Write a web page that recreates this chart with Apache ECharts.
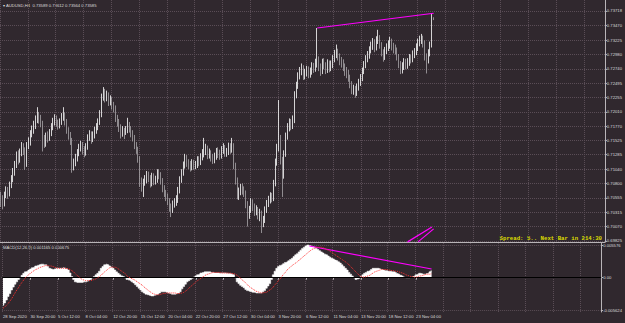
<!DOCTYPE html>
<html><head><meta charset="utf-8">
<script src="https://cdn.jsdelivr.net/npm/echarts@6/dist/echarts.min.js"></script>
<style>html,body{margin:0;padding:0;background:#30282e;}#c{width:625px;height:323px;}</style>
</head><body><div id="c"></div>
<script>
// ---- data (AUDUSD, H4) ----
const timeLabels = ['28 Sep 2020','30 Sep 20:00','5 Oct 12:00','8 Oct 04:00','12 Oct 20:00','15 Oct 12:00','20 Oct 04:00','22 Oct 20:00','27 Oct 12:00','30 Oct 04:00','3 Nov 20:00','6 Nov 12:00','11 Nov 04:00','13 Nov 20:00','18 Nov 12:00','23 Nov 04:00'];
const priceTicks = [0.69825,0.70070,0.70315,0.70555,0.70800,0.71040,0.71285,0.71525,0.71770,0.72010,0.72255,0.72495,0.72740,0.72980,0.73225,0.73470,0.73718];
const macdTicks = [-0.005624, 0, 0.005576];
const firstOpen = 0.7058;
const closes = [
0.7052,0.7045,0.7060,0.7068,0.7063,0.7077,0.7088,0.7099,0.7112,0.7128,
0.7120,0.7131,0.7142,0.7137,0.7112,0.7145,0.7150,0.7165,0.7170,0.7178,
0.7187,0.7195,0.7190,0.7182,0.7153,0.7148,0.7160,0.7158,0.7165,0.7176,
0.7184,0.7190,0.7182,0.7179,0.7184,0.7192,0.7196,0.7185,0.7170,0.7162,
0.7153,0.7108,0.7115,0.7123,0.7132,0.7140,0.7145,0.7137,0.7133,0.7142,
0.7158,0.7163,0.7155,0.7162,0.7170,0.7175,0.7184,0.7198,0.7226,0.7235,
0.7225,0.7230,0.7218,0.7222,0.7212,0.7208,0.7191,0.7184,0.7175,0.7165,
0.7170,0.7162,0.7170,0.7179,0.7172,0.7165,0.7158,0.7145,0.7138,
0.7123,0.7082,0.7075,0.7082,0.7086,0.7095,0.7089,0.7080,0.7092,0.7084,
0.7086,0.7098,0.7094,0.7085,0.7072,0.7064,0.7058,0.7050,0.7040,0.7035,
0.7045,0.7048,0.7052,0.7068,0.7086,0.7098,0.7110,0.7123,0.7115,0.7112,
0.7108,0.7115,0.7110,0.7111,0.7120,0.7116,0.7125,0.7130,0.7133,0.7140,
0.7128,0.7132,0.7125,0.7120,0.7125,0.7134,0.7130,0.7128,0.7136,0.7140,
0.7132,0.7133,0.7142,0.7137,0.7145,0.7111,0.7085,0.7060,0.7066,0.7072,
0.7068,0.7064,0.7045,0.7027,0.7035,0.7048,0.7040,0.7032,0.7036,0.7027,
0.7030,0.7013,0.7018,0.7035,0.7045,0.7052,0.7058,0.7055,0.7080,
0.7115,0.7140,0.7157,0.7120,0.7094,0.7130,0.7160,0.7175,0.7182,0.7178,
0.7187,0.7230,0.7245,0.7262,0.7269,0.7275,0.7262,0.7267,0.7272,0.7265,
0.7269,0.7278,0.7274,0.7284,0.7289,0.7278,0.7270,0.7285,0.7280,0.7272,
0.7283,0.7275,0.7280,0.7290,0.7298,0.7302,0.7295,0.7288,0.7284,0.7278,
0.7270,0.7266,0.7260,0.7248,0.7238,0.7240,0.7233,0.7242,0.7250,0.7258,
0.7270,0.7280,0.7290,0.7297,0.7305,0.7312,0.7318,0.7310,0.7322,0.7326,
0.7315,0.7302,0.7294,0.7305,0.7310,0.7314,0.7320,0.7312,0.7308,0.7306,
0.7295,0.7282,0.7272,0.7278,0.7285,0.7280,0.7285,0.7292,0.7290,0.7298,
0.7302,0.7310,0.7318,0.7322,0.7326,0.7318,0.7295,0.7289,0.7300,0.7314,
0.73589,0.73585];
const highs = [
0.7066,0.7060,0.7066,0.7075,0.7074,0.7083,0.7094,0.7106,0.7118,0.7134,
0.7136,0.7139,0.7150,0.7148,0.7141,0.7150,0.7158,0.7170,0.7178,0.7186,
0.7195,0.7209,0.7201,0.7196,0.7186,0.7162,0.7166,0.7168,0.7172,0.7182,
0.7191,0.7197,0.7195,0.7188,0.7190,0.7199,0.7209,0.7200,0.7189,0.7175,
0.7167,0.7157,0.7122,0.7130,0.7138,0.7147,0.7152,0.7150,0.7143,0.7148,
0.7163,0.7170,0.7168,0.7168,0.7176,0.7182,0.7190,0.7204,0.7232,0.7243,
0.7240,0.7237,0.7234,0.7229,0.7226,0.7218,0.7212,0.7196,0.7189,0.7180,
0.7177,0.7174,0.7177,0.7191,0.7184,0.7177,0.7170,0.7162,0.7150,
0.7142,0.7126,0.7090,0.7088,0.7094,0.7101,0.7100,0.7094,0.7098,0.7097,
0.7093,0.7104,0.7104,0.7099,0.7089,0.7077,0.7069,0.7063,0.7055,0.7046,
0.7051,0.7055,0.7060,0.7074,0.7092,0.7104,0.7117,0.7130,0.7128,0.7121,
0.7118,0.7121,0.7120,0.7118,0.7126,0.7126,0.7131,0.7138,0.7157,0.7147,
0.7144,0.7139,0.7136,0.7130,0.7132,0.7140,0.7141,0.7137,0.7143,0.7148,
0.7145,0.7140,0.7149,0.7148,0.7157,0.7148,0.7115,0.7090,0.7073,0.7079,
0.7080,0.7075,0.7068,0.7050,0.7042,0.7055,0.7053,0.7046,0.7043,0.7040,
0.7037,0.7034,0.7025,0.7041,0.7052,0.7059,0.7065,0.7064,0.7086,
0.7122,0.7147,0.7221,0.7162,0.7125,0.7136,0.7166,0.7182,0.7190,0.7189,
0.7195,0.7236,0.7252,0.7268,0.7277,0.7283,0.7280,0.7274,0.7279,0.7278,
0.7276,0.7285,0.7284,0.7291,0.7343,0.7295,0.7283,0.7291,0.7292,0.7285,
0.7290,0.7288,0.7288,0.7297,0.7306,0.7315,0.7308,0.7300,0.7294,0.7290,
0.7283,0.7277,0.7272,0.7264,0.7253,0.7247,0.7245,0.7249,0.7257,0.7265,
0.7276,0.7287,0.7297,0.7304,0.7312,0.7320,0.7326,0.7324,0.7329,0.7340,
0.7331,0.7319,0.7307,0.7311,0.7317,0.7322,0.7328,0.7325,0.7318,0.7315,
0.7310,0.7299,0.7287,0.7285,0.7292,0.7291,0.7292,0.7299,0.7298,0.7305,
0.7309,0.7317,0.7325,0.7330,0.7333,0.7330,0.7322,0.7300,0.7307,0.7320,
0.7368,0.73612];
const lows = [
0.7040,0.7036,0.7041,0.7055,0.7054,0.7058,0.7072,0.7082,0.7093,0.7106,
0.7112,0.7115,0.7126,0.7128,0.7103,0.7108,0.7138,0.7144,0.7158,0.7164,
0.7172,0.7182,0.7181,0.7175,0.7134,0.7140,0.7142,0.7149,0.7152,0.7160,
0.7170,0.7178,0.7176,0.7171,0.7173,0.7179,0.7186,0.7178,0.7164,0.7154,
0.7145,0.7098,0.7102,0.7109,0.7117,0.7126,0.7134,0.7129,0.7124,0.7127,
0.7137,0.7152,0.7147,0.7150,0.7156,0.7164,0.7170,0.7179,0.7192,0.7220,
0.7217,0.7219,0.7211,0.7212,0.7205,0.7200,0.7184,0.7176,0.7167,0.7156,
0.7159,0.7155,0.7162,0.7165,0.7166,0.7158,0.7151,0.7138,0.7130,
0.7115,0.7074,0.7066,0.7057,0.7076,0.7080,0.7082,0.7073,0.7075,0.7077,
0.7078,0.7081,0.7087,0.7078,0.7065,0.7057,0.7050,0.7043,0.7032,0.7023,
0.7030,0.7039,0.7042,0.7047,0.7063,0.7081,0.7093,0.7105,0.7108,0.7104,
0.7100,0.7102,0.7103,0.7104,0.7106,0.7109,0.7111,0.7119,0.7124,0.7128,
0.7121,0.7122,0.7117,0.7113,0.7114,0.7120,0.7123,0.7120,0.7122,0.7130,
0.7125,0.7125,0.7128,0.7130,0.7132,0.7104,0.7078,0.7053,0.7052,0.7060,
0.7061,0.7057,0.7038,0.7007,0.7020,0.7030,0.7033,0.7025,0.7026,0.7019,
0.7016,0.6996,0.7006,0.7013,0.7030,0.7040,0.7046,0.7048,0.7050,
0.7075,0.7110,0.7134,0.7112,0.7057,0.7088,0.7125,0.7154,0.7168,0.7170,
0.7172,0.7182,0.7224,0.7240,0.7256,0.7263,0.7255,0.7256,0.7261,0.7258,
0.7259,0.7264,0.7267,0.7269,0.7276,0.7270,0.7262,0.7265,0.7273,0.7265,
0.7267,0.7268,0.7270,0.7275,0.7285,0.7292,0.7288,0.7280,0.7276,0.7270,
0.7262,0.7258,0.7252,0.7241,0.7231,0.7230,0.7225,0.7228,0.7237,0.7245,
0.7253,0.7265,0.7275,0.7285,0.7291,0.7300,0.7306,0.7302,0.7305,0.7316,
0.7308,0.7295,0.7286,0.7289,0.7299,0.7304,0.7308,0.7305,0.7300,0.7298,
0.7288,0.7275,0.7265,0.7266,0.7272,0.7273,0.7274,0.7279,0.7283,0.7285,
0.7292,0.7297,0.7304,0.7312,0.7316,0.7310,0.7288,0.7266,0.7283,0.7295,
0.7310,0.73564];
const macdMain = [
-0.0047,-0.0043,-0.0038,-0.0032,-0.0027,-0.0021,-0.0016,-0.0011,-0.0007,-0.0003,
0.0000,0.0004,0.00075,0.0010,0.0011,0.0013,0.0015,0.0017,0.0018,0.0020,
0.0021,0.0022,0.0023,0.0023,0.0022,0.0022,0.0019,0.0016,0.0015,0.0014,
0.0015,0.0016,0.0016,0.0016,0.0016,0.0017,0.0016,0.0015,0.0013,0.0008,
0.0002,-0.0003,-0.0007,-0.0008,-0.0008,-0.0008,-0.0008,-0.0007,-0.0007,-0.0006,
-0.0004,-0.0003,0.0000,0.0002,0.0005,0.00075,0.0011,0.0016,0.0019,0.0022,
0.0023,0.0022,0.0020,0.0018,0.0016,0.0013,0.0010,0.00075,0.0005,0.0003,
0.0002,0.0000,-0.0003,-0.0004,-0.0005,-0.0007,-0.0009,-0.0012,-0.0015,
-0.0018,-0.0021,-0.0024,-0.0026,-0.0028,-0.0029,-0.0030,-0.0031,-0.0031,-0.0030,
-0.0029,-0.0028,-0.0026,-0.0024,-0.0024,-0.0024,-0.0025,-0.0026,-0.0027,-0.0028,
-0.0028,-0.0028,-0.0027,-0.0026,-0.0024,-0.0019,-0.0015,-0.0011,-0.0007,-0.0005,
-0.0003,-0.0001,0.0001,0.0003,0.0005,0.0006,0.0008,0.0009,0.0010,0.0010,
0.0010,0.0010,0.0009,0.0009,0.0008,0.0008,0.0008,0.00075,0.0008,0.0008,
0.0008,0.00075,0.0007,0.0007,0.0006,0.0005,0.0000,-0.0007,-0.0010,-0.0013,
-0.0015,-0.0017,-0.0020,-0.0022,-0.0023,-0.0024,-0.0025,-0.0025,-0.0026,-0.0026,
-0.0026,-0.0026,-0.0024,-0.0022,-0.0018,-0.0014,-0.0010,-0.0003,0.0005,
0.0011,0.0016,0.0019,0.0021,0.0022,0.0024,0.0026,0.0027,0.0029,0.0031,
0.0033,0.0036,0.0039,0.0041,0.0044,0.0047,0.0050,0.0052,0.0054,0.00557,
0.0055,0.0054,0.0053,0.0052,0.0050,0.0048,0.0046,0.0044,0.0042,0.0040,
0.0039,0.0037,0.0035,0.0033,0.0032,0.0030,0.0029,0.0027,0.0025,0.0022,
0.0019,0.0016,0.0013,0.0009,0.0006,0.0003,0.0000,-0.0003,-0.0002,-0.0001,
0.0002,0.0005,0.00075,0.0009,0.0011,0.0012,0.0014,0.0016,0.0016,0.0016,
0.0016,0.0015,0.0014,0.0013,0.0012,0.0012,0.0011,0.0011,0.0010,0.0010,
0.0009,0.0007,0.0006,0.0004,0.0003,0.0001,0.0000,0.0000,0.0000,0.0001,
0.0002,0.0003,0.0005,0.0006,0.00075,0.0007,0.0006,0.0006,0.0007,0.00075,
0.0010,0.001165];
const macdSignal = [
-0.0052,-0.0050,-0.0047,-0.0044,-0.0040,-0.0036,-0.0031,-0.0026,-0.0021,-0.0017,
-0.0012,-0.0008,-0.0004,0.0000,0.0003,0.0005,0.0008,0.0010,0.0012,0.0014,
0.0015,0.0017,0.0018,0.0019,0.0020,0.0021,0.0021,0.0020,0.0020,0.0019,
0.0018,0.0017,0.0016,0.0016,0.0016,0.0016,0.0016,0.0016,0.0015,0.0014,
0.0012,0.0010,0.0007,0.0004,0.0002,-0.0001,-0.0003,-0.0004,-0.0005,-0.0005,
-0.0005,-0.0005,-0.0004,-0.0003,-0.0002,0.0000,0.0002,0.0004,0.0007,0.0010,
0.0012,0.0015,0.0017,0.0018,0.0018,0.0018,0.0017,0.0015,0.0013,0.0011,
0.0009,0.0007,0.0003,0.0001,0.0000,-0.0002,-0.0003,-0.0005,-0.0007,
-0.0009,-0.0011,-0.0013,-0.0016,-0.0018,-0.0021,-0.0023,-0.0025,-0.0027,-0.0028,
-0.0029,-0.0029,-0.0029,-0.0028,-0.0027,-0.0027,-0.0026,-0.0026,-0.0026,-0.0026,
-0.0026,-0.0026,-0.0027,-0.0027,-0.0027,-0.0026,-0.0025,-0.0023,-0.0021,-0.0018,
-0.0015,-0.0013,-0.0010,-0.0007,-0.0005,-0.0003,-0.0001,0.0001,0.0003,0.0005,
0.0006,0.0007,0.0008,0.0009,0.0009,0.0009,0.0009,0.0009,0.0008,0.0008,
0.0008,0.0008,0.0008,0.0008,0.0007,0.0007,0.0006,0.0004,0.0002,-0.0001,
-0.0004,-0.0006,-0.0009,-0.0012,-0.0015,-0.0017,-0.0019,-0.0021,-0.0023,-0.0024,
-0.0025,-0.0026,-0.0026,-0.0025,-0.0025,-0.0023,-0.0021,-0.0019,-0.0016,
-0.0012,-0.0009,-0.0005,-0.0002,0.0002,0.0006,0.0009,0.0013,0.0016,0.0018,
0.0021,0.0023,0.0025,0.0027,0.0030,0.0032,0.0035,0.0037,0.0040,0.0042,
0.0045,0.0047,0.0049,0.0050,0.0052,0.0052,0.0052,0.0052,0.0051,0.0050,
0.0048,0.0047,0.0045,0.0043,0.0041,0.0039,0.0037,0.0035,0.0033,0.0031,
0.0029,0.0027,0.0025,0.0022,0.0019,0.0016,0.0013,0.0010,0.0007,0.0004,
0.0002,0.0001,0.0001,0.0002,0.0003,0.0004,0.0006,0.0008,0.0010,0.0011,
0.0012,0.0013,0.0014,0.0014,0.0014,0.0014,0.0013,0.0013,0.0012,0.0012,
0.0011,0.0011,0.0010,0.0009,0.0008,0.0007,0.0005,0.0004,0.0003,0.0002,
0.0002,0.0001,0.0001,0.0002,0.0003,0.0003,0.0004,0.0005,0.0006,0.0006,
0.0006,0.000675];
// hand-drawn trend lines on the reference: [barIndex, value] pairs
const priceTrendLines = [
  [[182, 0.7343], [249, 0.7368]],
  [[234, 0.6981], [248, 0.7006]],
  [[240, 0.6981], [249, 0.7003]]
];
const macdTrendLines = [
  [[178, 0.0054], [249, 0.00148]]
];
const futureSlots = 98;
const spreadText = 'Spread: 5.. Next Bar in 214:30';

// ---- chart ----
const FONT = 'Liberation Sans';
const TXT = '#dcdcdc';
const AXIS = '#b9b5b8';
const GRIDC = '#5a4d56';
const nBars = closes.length;
const cats = [];
for (let i = 0; i < nBars + futureSlots; i++) cats.push(String(i));
const candles = closes.map((c, i) => [i === 0 ? firstOpen : closes[i - 1], c, lows[i], highs[i]]);
const last = candles[nBars - 1];
const f5 = v => v.toFixed(5);
const header = '\u25BE AUDUSD,H4  ' + [last[0], last[3], last[2], last[1]].map(f5).join(' ');
const macdTitle = 'MACD(12,26,9) ' + macdMain[nBars - 1].toFixed(6) + ' ' + macdSignal[nBars - 1].toFixed(6);
const labIv = (i) => i % 16 === 0 && (i / 16) < timeLabels.length;
const gridIv = (i) => i % 16 === 0;
const toML = (arr) => arr.map(l => [{coord: [String(l[0][0]), l[0][1]]}, {coord: [String(l[1][0]), l[1][1]]}]);

const chart = echarts.init(document.getElementById('c'), null, {renderer: 'svg', width: 625, height: 323});
chart.setOption({
  backgroundColor: '#30282e',
  animation: false,
  textStyle: {fontFamily: FONT},
  grid: [
    {left: 0, right: 20, top: 0, height: 242},
    {left: 0, right: 20, top: 243, height: 69}
  ],
  xAxis: [
    {type: 'category', gridIndex: 0, data: cats, boundaryGap: true,
     axisLine: {show: true, lineStyle: {color: AXIS, width: 1}},
     axisTick: {show: false}, axisLabel: {show: false},
     splitLine: {show: true, interval: gridIv, lineStyle: {color: GRIDC, type: 'dotted', width: 1}}},
    {type: 'category', gridIndex: 1, data: cats, boundaryGap: true,
     axisLine: {show: true, lineStyle: {color: AXIS, width: 1}},
     axisTick: {show: true, alignWithLabel: true, interval: labIv, length: 2, lineStyle: {color: AXIS}},
     axisLabel: {show: true, interval: labIv, formatter: (v, i) => timeLabels[i / 16], align: 'left',
                 margin: 2, fontSize: 4.2, color: TXT, fontFamily: FONT},
     splitLine: {show: true, interval: gridIv, lineStyle: {color: GRIDC, type: 'dotted', width: 1}}}
  ],
  yAxis: [
    {type: 'value', gridIndex: 0, position: 'right', min: 0.69808, max: 0.73904,
     axisLine: {show: true, lineStyle: {color: AXIS}},
     axisTick: {show: true, length: 2, customValues: priceTicks, lineStyle: {color: AXIS}},
     axisLabel: {show: true, customValues: priceTicks, formatter: v => v.toFixed(5), fontSize: 4.2,
                 color: TXT, margin: 2, fontFamily: FONT},
     splitLine: {show: true, lineStyle: {color: GRIDC, type: 'dotted', width: 1}}},
    {type: 'value', gridIndex: 1, position: 'right', min: -0.005846, max: 0.005917,
     axisLine: {show: true, lineStyle: {color: AXIS}},
     axisTick: {show: true, length: 2, customValues: macdTicks, lineStyle: {color: AXIS}},
     axisLabel: {show: true, customValues: macdTicks, formatter: v => (v === 0 ? '0.00' : v.toFixed(6)),
                 fontSize: 4.2, color: TXT, margin: 2, fontFamily: FONT},
     splitLine: {show: true, lineStyle: {color: GRIDC, type: 'dotted', width: 1}}}
  ],
  series: [
    {type: 'candlestick', xAxisIndex: 0, yAxisIndex: 0, data: candles, barWidth: '70%',
     itemStyle: {color: '#ffffff', color0: '#aaa6a9', borderColor: '#ffffff', borderColor0: '#aaa6a9', borderWidth: 0.8},
     markLine: {silent: true, symbol: ['none', 'none'], animation: false,
       lineStyle: {color: '#ff00ff', width: 1.2, type: 'solid'}, label: {show: false},
       data: [
         {yAxis: last[1], lineStyle: {color: '#716c38', width: 1, type: 'solid'},
          label: {show: true, position: 'end', formatter: f5(last[1]), backgroundColor: '#ffffff', color: '#000000',
                  fontSize: 4.2, padding: [1, 1, 0, 1], distance: 1, fontFamily: FONT}}
       ].concat(toML(priceTrendLines))}
    },
    {type: 'line', xAxisIndex: 1, yAxisIndex: 1, data: macdMain, step: 'middle', showSymbol: false, symbol: 'none',
     lineStyle: {color: '#ffffff', width: 0.6}, areaStyle: {color: '#ffffff', opacity: 1, origin: 0},
     markLine: {silent: true, symbol: ['none', 'none'], animation: false, label: {show: false},
       lineStyle: {color: '#ff00ff', width: 1.2, type: 'solid'},
       data: [
         {yAxis: 0, lineStyle: {color: '#000000', width: 1, type: 'solid'}}
       ].concat(toML(macdTrendLines))}
    },
    {type: 'line', xAxisIndex: 1, yAxisIndex: 1, data: macdSignal, showSymbol: false, symbol: 'none',
     lineStyle: {color: '#ff3030', width: 1, type: 'dotted'}, z: 5}
  ],
  graphic: [
    {type: 'text', left: 3, top: 3, style: {text: header, fill: TXT, fontSize: 4.2, fontFamily: FONT}},
    {type: 'text', left: 3, top: 245, style: {text: macdTitle, fill: TXT, fontSize: 4.2, fontFamily: FONT}},
    {type: 'text', right: 23, top: 235, style: {text: spreadText, fill: '#dede00', fontSize: 5.7, fontFamily: 'Liberation Mono', fontWeight: 'bold'}}
  ]
});
</script>
</body></html>
